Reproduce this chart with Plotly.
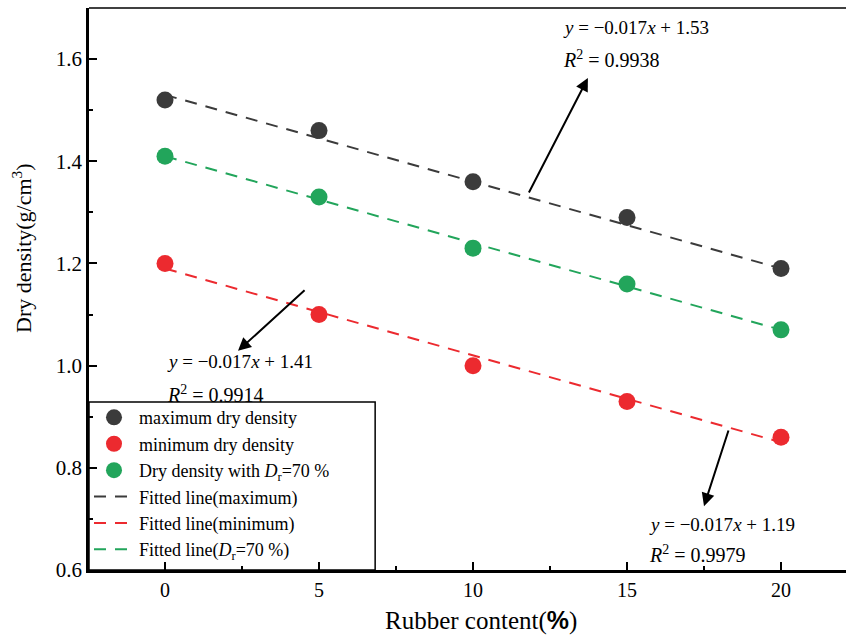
import plotly.graph_objects as go

# Rubber content (%) and measured dry densities (g/cm^3)
rubber = [0, 5, 10, 15, 20]
rho_max = [1.52, 1.46, 1.36, 1.29, 1.19]
rho_min = [1.20, 1.10, 1.00, 0.93, 0.86]
rho_dr70 = [1.41, 1.33, 1.23, 1.16, 1.07]

# Linear fits y = k*x + b and their R^2 (max, min, Dr=70 %)
fit_slope = [-0.017, -0.017, -0.017]
fit_intercept = [1.53, 1.19, 1.41]
fit_r2 = ["0.9938", "0.9979", "0.9914"]

series_names = ["maximum dry density", "minimum dry density",
                "Dry density with <i>D</i><sub>r</sub>=70 %"]
fit_names = ["Fitted line(maximum)", "Fitted line(minimum)",
             "Fitted line(<i>D</i><sub>r</sub>=70 %)"]
colors = ["#3b3b3b", "#ec2a2f", "#22a55b"]
values = [rho_max, rho_min, rho_dr70]

FONT = "Liberation Serif"

fig = go.Figure()

# fitted lines (drawn first so markers sit on top)
for i in range(3):
    xs = [rubber[0], rubber[-1]]
    ys = [fit_slope[i] * x + fit_intercept[i] for x in xs]
    fig.add_trace(go.Scatter(
        x=xs, y=ys, mode="lines", name=fit_names[i],
        line=dict(color=colors[i], width=2, dash="12px,9px"),
        legendrank=4 + i,
    ))

# measured points
for i in range(3):
    fig.add_trace(go.Scatter(
        x=rubber, y=values[i], mode="markers", name=series_names[i],
        marker=dict(color=colors[i], size=17),
        legendrank=1 + i,
    ))

# equation labels with arrows
labels = [
    # (text x, eq y, R2 y, arrow head x, head y, tail x, tail y, fit index)
    (12.86, 1.661, 1.600, 13.73, 1.563, 11.79, 1.336, 0),
    (0.0, 1.009, 0.944, 2.37, 1.029, 4.58, 1.150, 2),
    (15.65, 0.690, 0.631, 17.50, 0.725, 18.31, 0.876, 1),
]
for tx, ey, ry, hx, hy, sx, sy, k in labels:
    fig.add_annotation(
        x=tx, y=ey, xanchor="left", yanchor="middle", showarrow=False,
        text=f"<i>y</i> = \u2212{abs(fit_slope[k]):.3f}<i>x</i> + {fit_intercept[k]:.2f}",
        font=dict(family=FONT, size=19, color="black"),
    )
    fig.add_annotation(
        x=tx, y=ry, xanchor="left", yanchor="middle", showarrow=False,
        text=f"<i>R</i><sup>2</sup> = {fit_r2[k]}",
        font=dict(family=FONT, size=20, color="black"),
    )
    fig.add_annotation(
        x=hx, y=hy, ax=sx, ay=sy, xref="x", yref="y", axref="x", ayref="y",
        text="", showarrow=True, arrowhead=2, arrowsize=1.3, arrowwidth=2,
        arrowcolor="black",
    )

# axis titles
fig.add_annotation(
    xref="paper", yref="paper", x=-0.0885, y=0.573,
    xanchor="center", yanchor="middle", textangle=-90, showarrow=False,
    text="Dry density(g/cm<sup>3</sup>)",
    font=dict(family=FONT, size=22, color="black"),
)
fig.add_annotation(
    xref="paper", yref="paper", x=0.518, y=-0.089,
    xanchor="center", yanchor="middle", showarrow=False,
    text="Rubber content(<b><span style='font-family:Liberation Sans'>%</span></b>)",
    font=dict(family=FONT, size=25, color="black"),
)

# legend frame and top border
fig.add_shape(type="rect", xref="paper", yref="paper",
              x0=0, x1=0.378, y0=0, y1=0.299,
              line=dict(color="black", width=1.5), fillcolor="white",
              layer="below")
fig.add_shape(type="line", xref="paper", yref="paper",
              x0=0, x1=1, y0=1, y1=1, line=dict(color="black", width=1.5))

fig.update_layout(
    width=846, height=637,
    margin=dict(l=89, r=0, t=8, b=67),
    paper_bgcolor="white", plot_bgcolor="white",
    font=dict(family=FONT, size=20, color="black"),
    showlegend=True,
    legend=dict(
        x=0.0, y=0.304, xanchor="left", yanchor="top",
        bgcolor="rgba(0,0,0,0)", borderwidth=0,
        font=dict(family=FONT, size=18, color="black"),
        tracegroupgap=0, itemwidth=40,
    ),
    xaxis=dict(
        range=[-2.468, 22.11], tickvals=rubber, ticks="inside",
        ticklen=8, tickwidth=1.5, tickcolor="black",
        showline=True, linecolor="black", linewidth=2.5,
        showgrid=False, zeroline=False,
        minor=dict(dtick=2.5, tick0=0, ticks="inside", ticklen=4,
                   tickwidth=1.5, tickcolor="black", showgrid=False),
        tickfont=dict(family=FONT, size=20),
    ),
    yaxis=dict(
        range=[0.6, 1.7], dtick=0.2, tick0=0.6, tickformat=".1f",
        ticks="inside", ticklen=8, tickwidth=1.5, tickcolor="black",
        showline=True, linecolor="black", linewidth=2.5,
        showgrid=False, zeroline=False,
        minor=dict(dtick=0.1, ticks="inside", ticklen=4, tickwidth=1.5,
                   tickcolor="black", showgrid=False),
        tickfont=dict(family=FONT, size=21),
    ),
)

fig.write_html("out.html")
